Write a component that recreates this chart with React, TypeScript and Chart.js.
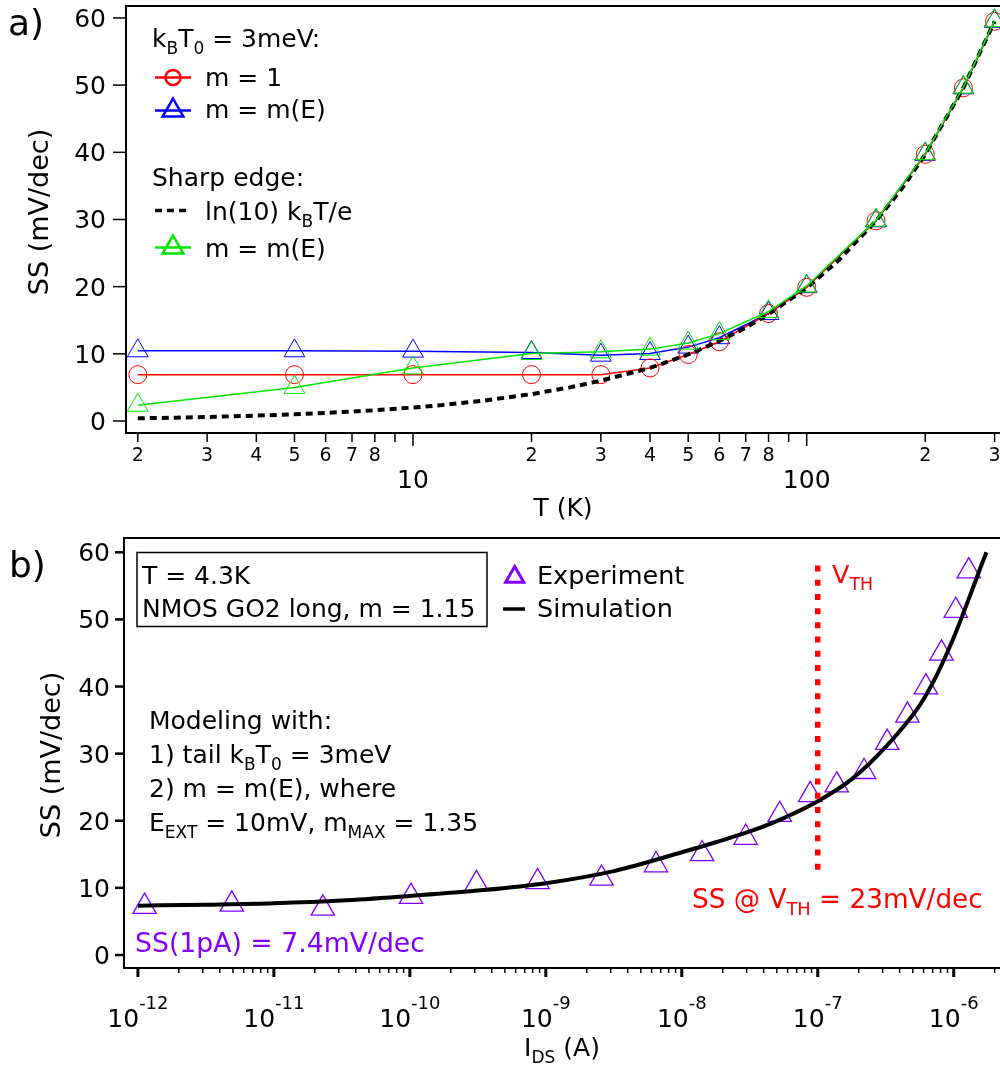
import React, { useEffect, useRef } from 'react';
import { Chart, registerables } from 'chart.js';

Chart.register(...registerables);

const FONT = '"DejaVu Sans", "Liberation Sans", sans-serif';
const BLUE = '#0000ff';
const RED = '#ff0000';
const GREEN = '#00e600';
const PURPLE = '#7f00ff';
const BLACK = '#000000';

// ---------------- Panel a data ----------------
const temperatureK = [2, 5, 10, 20, 30, 40, 50, 60, 80, 100, 150, 200, 250, 300];
const ssUniformM = [6.9, 6.9, 6.9, 6.9, 6.9, 7.9, 9.9, 11.8, 16.0, 19.9, 29.8, 39.7, 49.6, 59.5];
const ssTailME = [10.45, 10.45, 10.4, 10.2, 9.8, 10.05, 11.0, 12.4, 16.0, 20.0, 29.8, 39.7, 49.6, 59.5];
const ssSharpME = [2.35, 5.0, 7.9, 10.05, 10.3, 10.7, 11.6, 13.0, 16.3, 20.1, 29.9, 39.8, 49.7, 59.6];
const thermalT = [2, 2.5, 3, 4, 5, 6, 7, 8, 10, 12, 15, 20, 25, 30, 40, 50, 60, 70, 80, 100, 120, 150, 175, 200, 250, 300];
const thermalSS = [0.4, 0.5, 0.6, 0.8, 1.0, 1.2, 1.4, 1.6, 2.0, 2.4, 3.0, 4.0, 5.0, 6.0, 7.9, 9.9, 11.9, 13.9, 15.9, 19.8, 23.8, 29.8, 34.7, 39.7, 49.6, 59.5];
const tempAxisRange = [1.8667, 309.7];
const ssRangeA = [-1.787, 61.78];
const ssTicks = [0, 10, 20, 30, 40, 50, 60];
const tempMajorTicks = [10, 100];
const tempMinorTicks = [2, 3, 4, 5, 6, 7, 8, 9, 20, 30, 40, 50, 60, 70, 80, 90, 200, 300];
const tempMinorLabelled = [2, 3, 4, 5, 6, 7, 8, 20, 30, 40, 50, 60, 70, 80, 200, 300];

// ---------------- Panel b data ----------------
const expCurrentA = [1.12e-12, 4.9e-12, 2.29e-11, 1.02e-10, 3.09e-10, 8.7e-10, 2.57e-9, 6.46e-9, 1.41e-8, 2.95e-8, 5.25e-8, 8.8e-8, 1.38e-7, 2.19e-7, 3.24e-7, 4.57e-7, 6.24e-7, 8.13e-7, 1.035e-6, 1.29e-6];
const expSS = [7.2, 7.55, 6.95, 8.7, 10.6, 10.9, 11.4, 13.4, 15.05, 17.5, 20.9, 23.85, 25.3, 27.3, 31.65, 35.7, 39.9, 44.95, 51.3, 57.2];
const simCurrentA = [1e-12, 3.16e-12, 1e-11, 3.16e-11, 1e-10, 3.16e-10, 1e-9, 3.16e-9, 1e-8, 1.78e-8, 3.16e-8, 5.62e-8, 1e-7, 1.78e-7, 3.16e-7, 5.62e-7, 7.5e-7, 1e-6, 1.26e-6, 1.58e-6, 1.74e-6];
const simSS = [7.35, 7.5, 7.7, 8.1, 8.8, 9.6, 10.7, 12.5, 15.3, 16.8, 18.4, 20.4, 22.9, 26.2, 31.0, 37.2, 41.7, 47.3, 52.5, 57.8, 60.0];
const vthCurrentA = [1e-7, 1e-7];
const vthSS = [12.7, 58.1];
const currentAxisRange = [7.9e-13, 2.19e-6];
const ssRangeB = [-1.94, 62.13];
const currentDecades = [-12, -11, -10, -9, -8, -7, -6];
const decadeMinorMultipliers = [2, 3, 4, 5, 6, 7, 8, 9];

type Seg = [string, ('sub' | 'sup')?];

function rich(
  ctx: CanvasRenderingContext2D,
  segs: Seg[],
  x: number,
  y: number,
  size: number,
  color: string,
  align: 'left' | 'center' | 'right' = 'left',
  subScale = 0.68,
  supShift = 0.74,
) {
  const widths = segs.map(([t, m]) => {
    ctx.font = `${m ? size * subScale : size}px ${FONT}`;
    return ctx.measureText(t).width;
  });
  const total = widths.reduce((a, b) => a + b, 0);
  let cx = align === 'left' ? x : align === 'center' ? x - total / 2 : x - total;
  ctx.fillStyle = color;
  ctx.textAlign = 'left';
  ctx.textBaseline = 'alphabetic';
  segs.forEach(([t, m], i) => {
    const fs = m ? size * subScale : size;
    ctx.font = `${fs}px ${FONT}`;
    const dy = m === 'sub' ? size * 0.27 : m === 'sup' ? -size * supShift : 0;
    ctx.fillText(t, cx, y + dy);
    cx += widths[i];
  });
}

function line(ctx: CanvasRenderingContext2D, x1: number, y1: number, x2: number, y2: number) {
  ctx.beginPath();
  ctx.moveTo(x1, y1);
  ctx.lineTo(x2, y2);
  ctx.stroke();
}

function triangle(ctx: CanvasRenderingContext2D, x: number, y: number, r: number) {
  ctx.beginPath();
  let rad = 0;
  for (let k = 0; k < 3; k++) {
    const px = x + Math.sin(rad) * r;
    const py = y - Math.cos(rad) * r;
    if (k === 0) ctx.moveTo(px, py);
    else ctx.lineTo(px, py);
    rad += (2 * Math.PI) / 3;
  }
  ctx.closePath();
  ctx.stroke();
}

const panelAOverlay = {
  id: 'panelAOverlay',
  afterDraw(chart: any) {
    const ctx: CanvasRenderingContext2D = chart.ctx;
    const ca = chart.chartArea;
    const xs = chart.scales.x;
    const ys = chart.scales.y;
    ctx.save();
    ctx.strokeStyle = BLACK;
    ctx.lineWidth = 2;
    ctx.beginPath();
    ctx.moveTo(ca.right + 5, ca.top);
    ctx.lineTo(ca.left, ca.top);
    ctx.lineTo(ca.left, ca.bottom);
    ctx.lineTo(ca.right + 5, ca.bottom);
    ctx.stroke();

    // y ticks
    ctx.lineWidth = 1.5;
    ssTicks.forEach((v) => {
      const py = ys.getPixelForValue(v);
      line(ctx, ca.left - 13, py, ca.left, py);
      rich(ctx, [[String(v)]], 106, py + 9, 25, BLACK, 'right');
    });
    // x ticks
    tempMinorTicks.forEach((v) => {
      const px = xs.getPixelForValue(v);
      line(ctx, px, ca.bottom, px, ca.bottom + 9);
    });
    tempMinorLabelled.forEach((v) => {
      const px = xs.getPixelForValue(v);
      rich(ctx, [[String(v).charAt(0)]], px, 461, 19, BLACK, 'center');
    });
    tempMajorTicks.forEach((v) => {
      const px = xs.getPixelForValue(v);
      line(ctx, px, ca.bottom, px, ca.bottom + 13);
      rich(ctx, [[String(v)]], px, 488, 25, BLACK, 'center');
    });

    // axis titles
    rich(ctx, [['T (K)']], (ca.left + ca.right) / 2, 516, 25, BLACK, 'center');
    ctx.save();
    ctx.translate(48, 212);
    ctx.rotate(-Math.PI / 2);
    rich(ctx, [['SS (mV/dec)']], 0, 0, 27, BLACK, 'center');
    ctx.restore();

    // panel tag
    rich(ctx, [['a)']], 8, 35, 36, BLACK, 'left');

    // legend
    rich(ctx, [['k'], ['B', 'sub'], ['T'], ['0', 'sub'], [' = 3meV:']], 152, 47, 25, BLACK);
    ctx.lineWidth = 2.5;
    ctx.strokeStyle = RED;
    line(ctx, 155, 77.5, 191, 77.5);
    ctx.beginPath();
    ctx.arc(173, 77.5, 7.5, 0, Math.PI * 2);
    ctx.stroke();
    rich(ctx, [['m = 1']], 205, 86, 25, BLACK);

    ctx.strokeStyle = BLUE;
    line(ctx, 155, 110.5, 191, 110.5);
    triangle(ctx, 173, 110.5, 12);
    rich(ctx, [['m = m(E)']], 205, 118, 25, BLACK);

    rich(ctx, [['Sharp edge:']], 152, 186, 25, BLACK);

    ctx.strokeStyle = BLACK;
    ctx.lineWidth = 3.5;
    ctx.setLineDash([7, 5]);
    line(ctx, 155, 210.5, 191, 210.5);
    ctx.setLineDash([]);
    rich(ctx, [['ln(10) k'], ['B', 'sub'], ['T/e']], 205, 220, 25, BLACK);

    ctx.lineWidth = 2.5;
    ctx.strokeStyle = GREEN;
    line(ctx, 155, 247.5, 191, 247.5);
    triangle(ctx, 173, 247.5, 12);
    rich(ctx, [['m = m(E)']], 205, 257, 25, BLACK);
    ctx.restore();
  },
};

const OFF = 535;

const panelBOverlay = {
  id: 'panelBOverlay',
  afterDraw(chart: any) {
    const ctx: CanvasRenderingContext2D = chart.ctx;
    const ca = chart.chartArea;
    const xs = chart.scales.x;
    const ys = chart.scales.y;
    const Y = (v: number) => v - OFF;
    ctx.save();
    ctx.strokeStyle = BLACK;
    ctx.lineWidth = 2;
    ctx.beginPath();
    ctx.moveTo(ca.right + 5, ca.top);
    ctx.lineTo(ca.left, ca.top);
    ctx.lineTo(ca.left, ca.bottom);
    ctx.lineTo(ca.right + 5, ca.bottom);
    ctx.stroke();

    // y ticks
    ctx.lineWidth = 2.5;
    ssTicks.forEach((v) => {
      const py = ys.getPixelForValue(v);
      line(ctx, ca.left - 9, py, ca.left, py);
      rich(ctx, [[String(v)]], 110, py + 9, 25, BLACK, 'right');
    });
    // x ticks
    ctx.lineWidth = 1.5;
    currentDecades.forEach((d) => {
      if (d >= -6) return;
      decadeMinorMultipliers.forEach((m) => {
        const px = xs.getPixelForValue(m * Math.pow(10, d));
        line(ctx, px, ca.bottom, px, ca.bottom + 5);
      });
    });
    {
      const px = xs.getPixelForValue(2e-6);
      line(ctx, px, ca.bottom, px, ca.bottom + 5);
    }
    ctx.lineWidth = 3;
    currentDecades.forEach((d) => {
      const px = xs.getPixelForValue(Math.pow(10, d));
      line(ctx, px, ca.bottom, px, ca.bottom + 9);
      rich(ctx, [['10'], [String(d), 'sup']], px, Y(1027), 25, BLACK, 'center', 0.72, 0.74);
    });

    // axis titles
    rich(ctx, [['I'], ['DS', 'sub'], [' (A)']], (ca.left + ca.right) / 2, Y(1056), 25, BLACK, 'center');
    ctx.save();
    ctx.translate(60, Y(755));
    ctx.rotate(-Math.PI / 2);
    rich(ctx, [['SS (mV/dec)']], 0, 0, 27, BLACK, 'center');
    ctx.restore();

    // panel tag
    rich(ctx, [['b)']], 9, Y(577), 36, BLACK, 'left');

    // info box
    ctx.lineWidth = 1.5;
    ctx.strokeStyle = BLACK;
    ctx.strokeRect(137, Y(552.5), 350, 74);
    rich(ctx, [['T = 4.3K']], 142, Y(583.5), 25, BLACK);
    rich(ctx, [['NMOS GO2 long, m = 1.15']], 142, Y(617), 25, BLACK);

    // legend
    ctx.strokeStyle = PURPLE;
    ctx.lineWidth = 3;
    triangle(ctx, 514.7, Y(577), 10.5);
    rich(ctx, [['Experiment']], 537, Y(583.5), 25.5, BLACK);
    ctx.strokeStyle = BLACK;
    ctx.lineWidth = 3.5;
    line(ctx, 503, Y(609), 525, Y(609));
    rich(ctx, [['Simulation']], 537, Y(617), 25.5, BLACK);

    // modeling note
    rich(ctx, [['Modeling with:']], 149, Y(729), 25, BLACK);
    rich(ctx, [['1) tail k'], ['B', 'sub'], ['T'], ['0', 'sub'], [' = 3meV']], 149, Y(763), 25, BLACK);
    rich(ctx, [['2) m = m(E), where']], 149, Y(797), 25, BLACK);
    rich(ctx, [['E'], ['EXT', 'sub'], [' = 10mV, m'], ['MAX', 'sub'], [' = 1.35']], 149, Y(831), 25, BLACK);

    // annotations
    rich(ctx, [['V'], ['TH', 'sub']], 832, Y(583), 25.5, RED);
    rich(ctx, [['SS @ V'], ['TH', 'sub'], [' = 23mV/dec']], 692, Y(908), 26.3, RED);
    rich(ctx, [['SS(1pA) = 7.4mV/dec']], 135, Y(951.5), 26.7, PURPLE);
    ctx.restore();
  },
};

function pts(xv: number[], yv: number[]) {
  return xv.map((x, i) => ({ x, y: yv[i] }));
}

export default function App() {
  const refA = useRef<HTMLCanvasElement>(null);
  const refB = useRef<HTMLCanvasElement>(null);

  useEffect(() => {
    const chartA = new Chart(refA.current as HTMLCanvasElement, {
      type: 'line',
      data: {
        datasets: [
          {
            label: 'Sharp edge m = m(E)',
            data: pts(temperatureK, ssSharpME),
            borderColor: GREEN,
            borderWidth: 1.5,
            pointStyle: 'triangle',
            pointRadius: 12,
            pointBorderWidth: 1,
            pointBorderColor: GREEN,
            pointBackgroundColor: 'rgba(0,0,0,0)',
            clip: false,
            order: 0,
          },
          {
            label: 'ln(10) kBT/e',
            data: pts(thermalT, thermalSS),
            borderColor: BLACK,
            borderWidth: 4,
            borderDash: [7, 5],
            pointRadius: 0,
            clip: false,
            order: 1,
          },
          {
            label: 'm = 1',
            data: pts(temperatureK, ssUniformM),
            borderColor: RED,
            borderWidth: 1.5,
            pointStyle: 'circle',
            pointRadius: 9,
            pointBorderWidth: 1,
            pointBorderColor: RED,
            pointBackgroundColor: 'rgba(0,0,0,0)',
            clip: false,
            order: 2,
          },
          {
            label: 'm = m(E)',
            data: pts(temperatureK, ssTailME),
            borderColor: BLUE,
            borderWidth: 1.5,
            pointStyle: 'triangle',
            pointRadius: 12,
            pointBorderWidth: 1,
            pointBorderColor: BLUE,
            pointBackgroundColor: 'rgba(0,0,0,0)',
            clip: false,
            order: 3,
          },
        ],
      },
      options: {
        animation: false,
        responsive: false,
        devicePixelRatio: 1,
        layout: { autoPadding: false, padding: { left: 126, top: 6, right: 0, bottom: 102 } },
        plugins: { legend: { display: false }, tooltip: { enabled: false } },
        elements: { line: { tension: 0 } },
        scales: {
          x: { type: 'logarithmic', min: tempAxisRange[0], max: tempAxisRange[1], display: false },
          y: { type: 'linear', min: ssRangeA[0], max: ssRangeA[1], display: false },
        },
      },
      plugins: [panelAOverlay],
    } as any);

    const chartB = new Chart(refB.current as HTMLCanvasElement, {
      type: 'line',
      data: {
        datasets: [
          {
            label: 'V_TH',
            data: pts(vthCurrentA, vthSS),
            borderColor: RED,
            borderWidth: 5.5,
            borderDash: [6, 8.2],
            borderCapStyle: 'butt',
            pointRadius: 0,
            clip: false,
            order: 0,
          },
          {
            label: 'Simulation',
            data: pts(simCurrentA, simSS),
            borderColor: BLACK,
            borderWidth: 4,
            pointRadius: 0,
            cubicInterpolationMode: 'monotone',
            clip: false,
            order: 1,
          },
          {
            label: 'Experiment',
            data: pts(expCurrentA, expSS),
            showLine: false,
            pointStyle: 'triangle',
            pointRadius: 13.5,
            pointBorderWidth: 1.3,
            pointBorderColor: PURPLE,
            pointBackgroundColor: 'rgba(0,0,0,0)',
            clip: false,
            order: 2,
          },
        ],
      },
      options: {
        animation: false,
        responsive: false,
        devicePixelRatio: 1,
        layout: { autoPadding: false, padding: { left: 124, top: 3, right: 0, bottom: 102 } },
        plugins: { legend: { display: false }, tooltip: { enabled: false } },
        scales: {
          x: { type: 'logarithmic', min: currentAxisRange[0], max: currentAxisRange[1], display: false },
          y: { type: 'linear', min: ssRangeB[0], max: ssRangeB[1], display: false },
        },
      },
      plugins: [panelBOverlay],
    } as any);

    return () => {
      chartA.destroy();
      chartB.destroy();
    };
  }, []);

  return (
    <div style={{ position: 'absolute', left: 0, top: 0, width: 1000, height: 1070, background: '#ffffff' }}>
      <canvas
        ref={refA}
        width={1000}
        height={535}
        style={{ position: 'absolute', left: 0, top: 0, width: 1000, height: 535 }}
      />
      <canvas
        ref={refB}
        width={1000}
        height={535}
        style={{ position: 'absolute', left: 0, top: 535, width: 1000, height: 535 }}
      />
    </div>
  );
}
